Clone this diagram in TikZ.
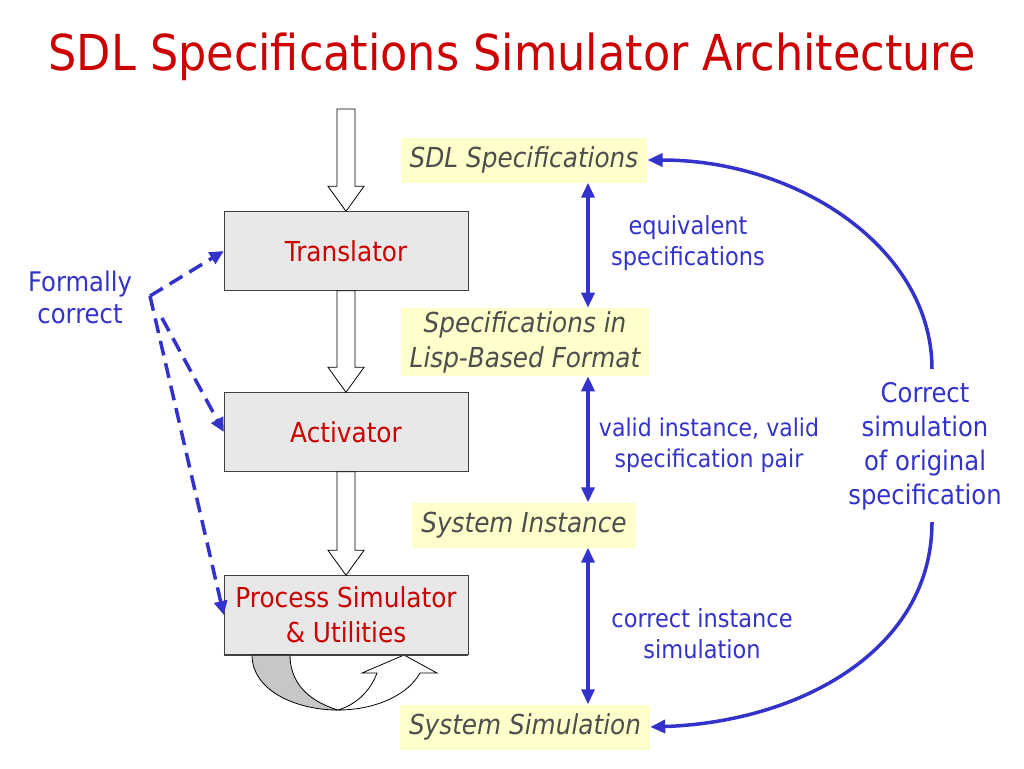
\documentclass[tikz,border=0pt]{standalone}
\usepackage{fontspec}
\setmainfont{DejaVu Sans}[FakeStretch=0.9]
\usepackage{tikz}
\usetikzlibrary{
	arrows.meta, calc
}
\definecolor{sdlred}{HTML}{CC0000}
\definecolor{sdlblue}{HTML}{3333CC}
\definecolor{notegray}{HTML}{4D4D4D}
\definecolor{noteyellow}{HTML}{FFFFCC}
\tikzset{
	caja/.style = {draw = black!75, fill = black!9, text = sdlred,
		minimum width = 244, minimum height = 79, align = center,
		font = \fontsize{27.5}{35}\selectfont},
	nota/.style = {fill = noteyellow, text = notegray, inner xsep = 9pt,
		minimum height = 45, align = center,
		font = \fontsize{27.5}{35}\selectfont\itshape},
	rotulo/.style = {text = sdlblue, align = center},
	hueca/.style = {draw = black, fill = white, line width = 0.8pt},
	azul/.style = {draw = sdlblue, line width = 3.5pt,
		{Triangle[length = 15pt, width = 13pt]}-{Triangle[length = 15pt, width = 13pt]}},
	curva/.style = {draw = sdlblue, line width = 3.5pt,
		-{Triangle[length = 15pt, width = 13pt]}},
	discont/.style = {draw = sdlblue, line width = 3.5pt,
		dash pattern = on 15pt off 8pt,
		-{Triangle[length = 14pt, width = 13pt]}}
}

\begin{document}
\begin{tikzpicture}[x = 1pt, y = -1pt]

	% márgenes
	\useasboundingbox (0,0) rectangle (1024,768);

	% título
	\node[text = sdlred, font = \fontsize{49.5}{60}\selectfont] (titulo)
		at (512,57) {SDL Specifications Simulator Architecture};

	% bloques
	\node[caja] (tr) at (346,251) {Translator};
	\node[caja] (ac) at (346,432) {Activator};
	\node[caja] (ps) at (346,615) {Process Simulator\\\& Utilities};

	% flechas huecas
	\coordinate (entrada) at (346,109);
	\foreach \a/\b in {entrada/tr.north, tr.south/ac.north, ac.south/ps.north}
		\draw[hueca]
			([xshift = -9pt]\a) -- ([xshift = -9pt, yshift = 25pt]\b)
			-- ([xshift = -18pt, yshift = 25pt]\b) -- (\b)
			-- ([xshift = 18pt, yshift = 25pt]\b)
			-- ([xshift = 9pt, yshift = 25pt]\b) -- ([xshift = 9pt]\a) -- cycle;

	% lazo bajo el simulador
	\draw[hueca, fill = black!22]
		(252,655) .. controls (252,690) and (295,710) .. (338,710)
		.. controls (305,700) and (290,680) .. (290,655) -- cycle;
	\draw[hueca]
		(338,710) .. controls (375,710) and (408,695) .. (420,673)
		-- (437,673) -- (404,655) -- (362,673) -- (377,673)
		.. controls (370,692) and (355,705) .. (338,710) -- cycle;
	\draw[black!75] (ps.south west) -- (ps.south east);

	% corrección formal
	\node[rotulo, font = \fontsize{27}{32}\selectfont] (formal)
		at (80,297) {Formally\\correct};
	\coordinate (fc) at (150,296);
	\draw[discont] (fc) -- (tr.west);
	\draw[discont, shorten <= 25pt] (fc) -- (ac.west);
	\draw[discont] (fc) -- (ps.west);

	% especificaciones
	\node[nota] (sdl) at (524,160) {SDL Specifications};
	\node[nota] (lisp) at (525,342) {Specifications in\\Lisp-Based Format};
	\node[nota] (inst) at (524,525) {System Instance};
	\node[nota] (sim) at (525,727) {System Simulation};

	% relaciones
	\coordinate (eje) at (588,0);
	\draw[azul] (sdl.south -| eje) -- (lisp.north -| eje);
	\draw[azul] (lisp.south -| eje) -- (inst.north -| eje);
	\draw[azul] (inst.south -| eje) -- (sim.north -| eje);

	\node[rotulo, font = \fontsize{25}{31}\selectfont] (equiv)
		at (688,243) {equivalent\\specifications};
	\node[rotulo, font = \fontsize{24.5}{31}\selectfont] (valid)
		at (709,445) {valid instance, valid\\specification pair};
	\node[rotulo, font = \fontsize{25}{31}\selectfont] (corr)
		at (702,634) {correct instance\\simulation};

	% simulación correcta
	\node[rotulo, font = \fontsize{27}{34}\selectfont] (orig)
		at (925,446) {Correct\\simulation\\of original\\specification};
	\coordinate (ca) at (932,369);
	\coordinate (cb) at (932,522);
	\draw[curva] (ca) .. controls (932,250) and (800,160) .. (sdl.east);
	\draw[curva] (cb) .. controls (932,650) and (800,722) .. (sim.east);

\end{tikzpicture}
\end{document}
